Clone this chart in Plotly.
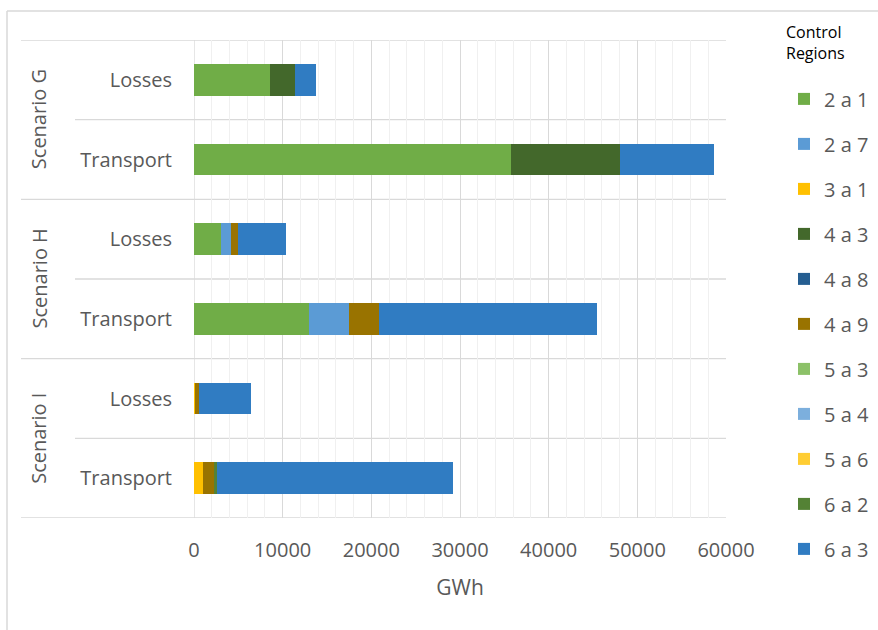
import plotly.graph_objects as go

# ---- data (GWh) ----
scenarios = ["Scenario G", "Scenario H", "Scenario I"]
kinds = ["Losses", "Transport"]

regions = ["2 a 1", "2 a 7", "3 a 1", "4 a 3", "4 a 8", "4 a 9",
           "5 a 3", "5 a 4", "5 a 6", "6 a 2", "6 a 3"]
colors = ["#70AD47", "#5B9BD5", "#FFC000", "#43682B", "#255E91", "#997300",
          "#8CC168", "#7CAFDD", "#FFCD33", "#548235", "#307CC2"]

# order of rows: G Losses, G Transport, H Losses, H Transport, I Losses, I Transport
v_2a1 = [8600, 35800, 3100, 12950, 0, 0]
v_2a7 = [0, 0, 1050, 4550, 0, 0]
v_3a1 = [0, 0, 0, 0, 120, 1050]
v_4a3 = [2760, 12200, 0, 0, 0, 0]
v_4a8 = [0, 0, 0, 0, 0, 0]
v_4a9 = [0, 0, 780, 3400, 430, 1310]
v_5a3 = [0, 0, 0, 0, 0, 0]
v_5a4 = [0, 0, 0, 0, 0, 0]
v_5a6 = [0, 0, 0, 0, 0, 0]
v_6a2 = [0, 0, 0, 0, 0, 220]
v_6a3 = [2370, 10700, 5400, 24550, 5870, 26600]

series = [v_2a1, v_2a7, v_3a1, v_4a3, v_4a8, v_4a9,
          v_5a3, v_5a4, v_5a6, v_6a2, v_6a3]

x_ticks = [0, 10000, 20000, 30000, 40000, 50000, 60000]

# ---- layout geometry ----
W_FIG, H_FIG = 878, 630
M_L, M_R, M_T, M_B = 194, 152, 40, 112
PW = W_FIG - M_L - M_R
PH = H_FIG - M_T - M_B


def px_x(p):
    return (p - M_L) / PW


def px_y(p):
    return (H_FIG - M_B - p) / PH


row_keys = [f"{s}|{k}" for s in scenarios for k in kinds]
row_text = [k for s in scenarios for k in kinds]

TXT = "#595959"
FONT = "Open Sans"
GRID = "#D9D9D9"

fig = go.Figure()
for name, col, vals in zip(regions, colors, series):
    fig.add_trace(go.Bar(
        y=row_keys, x=vals, name=name, orientation="h",
        marker=dict(color=col, line=dict(width=0)),
        legendgroup=name,
    ))

shapes = []
# category boundary lines (through the plot and the label area)
n = len(row_keys)
for i in range(n + 1):
    yb = i - 0.5
    outer = (i % 2 == 0)
    shapes.append(dict(type="line", xref="paper", yref="y",
                       x0=px_x(21 if outer else 75), x1=1, y0=yb, y1=yb,
                       line=dict(color=GRID, width=1.3), layer="below"))
# value axis baseline
shapes.append(dict(type="line", xref="x", yref="paper", x0=0, x1=0, y0=0, y1=1,
                   line=dict(color=GRID, width=1.3), layer="below"))
# chart frame
shapes.append(dict(type="line", xref="paper", yref="paper",
                   x0=px_x(7), x1=px_x(7), y0=px_y(11), y1=px_y(640),
                   line=dict(color=GRID, width=1.5)))
shapes.append(dict(type="line", xref="paper", yref="paper",
                   x0=px_x(7), x1=px_x(890), y0=px_y(11), y1=px_y(11),
                   line=dict(color=GRID, width=1.5)))

annotations = []
for j, s in enumerate(scenarios):
    annotations.append(dict(
        text=s, textangle=-90, xref="paper", yref="y",
        x=px_x(38.5), y=2 * j + 0.5, showarrow=False,
        font=dict(family=FONT, size=20, color=TXT),
        xanchor="center", yanchor="middle"))

fig.update_layout(
    width=W_FIG, height=H_FIG,
    margin=dict(l=M_L, r=M_R, t=M_T, b=M_B, autoexpand=False),
    paper_bgcolor="white", plot_bgcolor="white",
    barmode="stack", bargap=0.6,
    font=dict(family=FONT, size=20, color=TXT),
    shapes=shapes, annotations=annotations,
    showlegend=True,
    legend=dict(
        title=dict(text="Control<br>Regions<br> ", side="top",
                   font=dict(family=FONT, size=16, color="#000000")),
        font=dict(family=FONT, size=20, color=TXT),
        traceorder="grouped", tracegroupgap=16,
        x=px_x(784), xanchor="left", y=px_y(17), yanchor="top",
        maxheight=1.0,
        bgcolor="rgba(0,0,0,0)",
    ),
    xaxis=dict(
        range=[0, 60000], tickvals=x_ticks,
        ticktext=[str(t) for t in x_ticks],
        showgrid=True, gridcolor=GRID, gridwidth=1,
        minor=dict(dtick=2000, showgrid=True, gridcolor="#F0F0F0", gridwidth=1),
        zeroline=False, showline=False, ticks="",
        ticklabelstandoff=18,
        tickfont=dict(family=FONT, size=20, color=TXT),
        title=dict(text="GWh", font=dict(family=FONT, size=21, color=TXT), standoff=18),
    ),
    yaxis=dict(
        type="category", categoryorder="array", categoryarray=row_keys,
        range=[n - 0.5, -0.5],
        tickvals=row_keys, ticktext=row_text,
        showgrid=False, zeroline=False, showline=False, ticks="",
        ticklabelstandoff=21,
        tickfont=dict(family=FONT, size=20, color=TXT),
    ),
)

fig.write_html("out.html")
